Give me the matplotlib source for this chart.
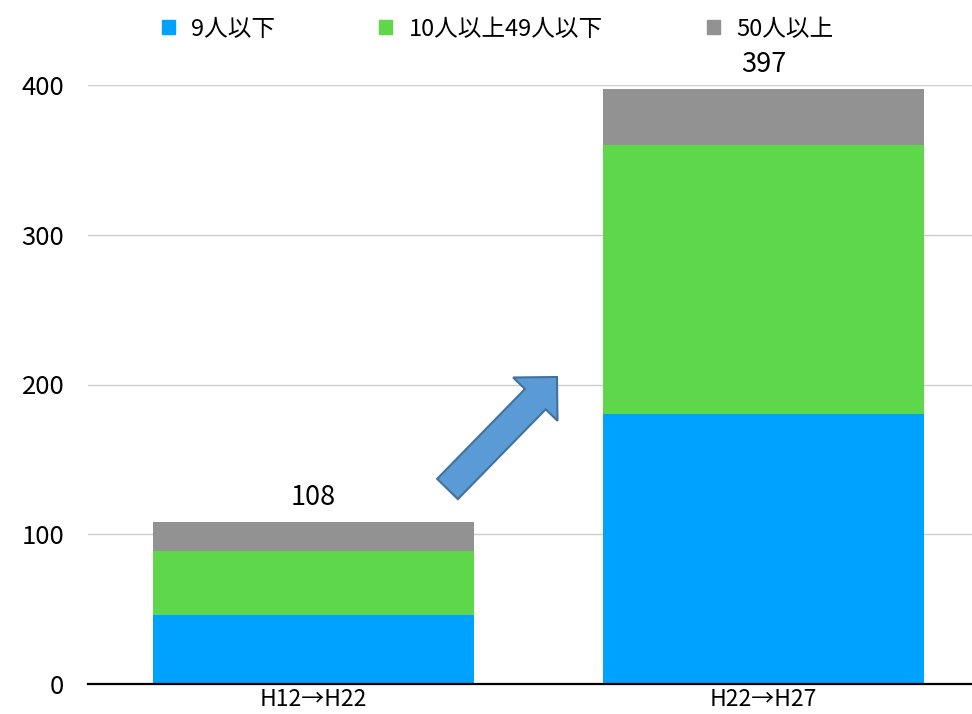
import matplotlib.pyplot as plt
from matplotlib.patches import FancyArrow, Patch
from matplotlib.transforms import Affine2D

plt.rcParams['font.family'] = ['Noto Sans CJK JP', 'DejaVu Sans']

periods = ['H12→H22', 'H22→H27']
series_names = ['9人以下', '10人以上49人以下', '50人以上']
small = [46, 180]
medium = [43, 180]
large = [19, 37]
totals = [108, 397]
colors = ['#00A2FF', '#5ED84A', '#929292']

fig = plt.figure(figsize=(9.72, 7.14), dpi=100)
ax = fig.add_axes([88 / 972, 1 - 684 / 714, 1 - 88 / 972, (684 - 85) / 714])

x = range(len(periods))
bottom = [0] * len(periods)
for vals, name, c in zip([small, medium, large], series_names, colors):
    ax.bar(x, vals, width=0.713, bottom=bottom, color=c, label=name, zorder=3)
    bottom = [b + v for b, v in zip(bottom, vals)]

for i, t in enumerate(totals):
    ax.annotate(str(t), (i, t), xytext=(0, 8), textcoords='offset points',
                ha='center', va='bottom', fontsize=19.5, clip_on=False)

ax.set_xlim(-0.5, 1.463)
ax.set_ylim(0, 400)
ax.set_yticks([0, 100, 200, 300, 400])
ax.set_xticks(list(x))
ax.set_xticklabels(periods)
ax.tick_params(axis='y', length=0, labelsize=18.5, pad=17)
ax.tick_params(axis='x', length=0, labelsize=16.5, pad=3)
ax.grid(axis='y', color='#cccccc', lw=1, zorder=0)
for s in ['left', 'right', 'top']:
    ax.spines[s].set_visible(False)
ax.spines['bottom'].set_color('black')
ax.spines['bottom'].set_linewidth(1.6)
ax.spines['bottom'].set_zorder(4)

# block arrow between the two bars (pixel coords, origin top-left)
px = Affine2D().scale(1 / 972, -1 / 714).translate(0, 1) + fig.transFigure
arrow = FancyArrow(447.5, 489, 109.5, -112, width=29, head_width=62, head_length=31,
                   length_includes_head=True, transform=px,
                   facecolor='#5B9BD5', edgecolor='#41719C', lw=1.5, zorder=5)
fig.add_artist(arrow)

handles = [Patch(color=c) for c in colors]
fig.legend(handles, series_names, loc='upper center', bbox_to_anchor=(0.512, 1.005),
           ncol=3, frameon=False, fontsize=17, handlelength=0.55, handleheight=0.55,
           handletextpad=0.7, columnspacing=4.4)

fig.savefig('out.png', dpi=100)
